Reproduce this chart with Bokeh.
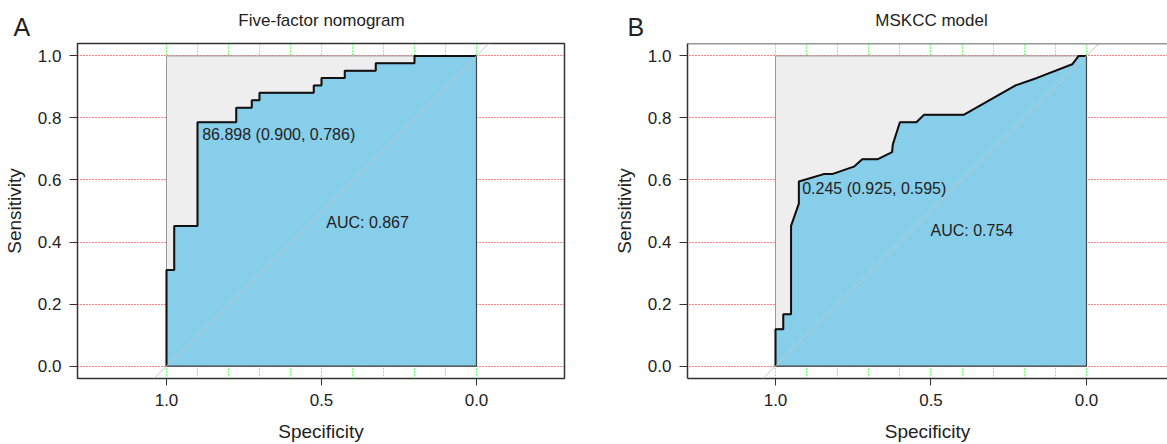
from bokeh.plotting import figure
from bokeh.layouts import row, column
from bokeh.models import FixedTicker, Label, Slope, Span, PrintfTickFormatter, Range1d
from bokeh.core.properties import value
from bokeh.embed import file_html
from bokeh.resources import INLINE

# ---- data ----
spec_a = [1.000, 1.000, 0.975, 0.975, 0.900, 0.900, 0.775, 0.775, 0.725, 0.725, 0.700, 0.700,
          0.525, 0.525, 0.500, 0.500, 0.425, 0.425, 0.325, 0.325, 0.200, 0.200, 0.000]
sens_a = [0.000, 0.310, 0.310, 0.452, 0.452, 0.786, 0.786, 0.833, 0.833, 0.857, 0.857, 0.881,
          0.881, 0.905, 0.905, 0.929, 0.929, 0.952, 0.952, 0.976, 0.976, 1.000, 1.000]

spec_b = [1.000, 1.000, 0.975, 0.975, 0.950, 0.950, 0.925, 0.925, 0.845, 0.818, 0.748, 0.721,
          0.671, 0.625, 0.623, 0.600, 0.547, 0.523, 0.395, 0.228, 0.159, 0.046, 0.025, 0.000]
sens_b = [0.000, 0.119, 0.119, 0.167, 0.167, 0.452, 0.524, 0.595, 0.619, 0.619, 0.643, 0.667,
          0.667, 0.690, 0.714, 0.786, 0.786, 0.810, 0.810, 0.905, 0.929, 0.973, 1.000, 1.000]

titles = ["Five-factor nomogram", "MSKCC model"]
letters = ["A", "B"]
auc_texts = ["AUC: 0.867", "AUC: 0.754"]
thr_texts = ["86.898 (0.900, 0.786)", "0.245 (0.925, 0.595)"]
y_ticks = [0.0, 0.2, 0.4, 0.6, 0.8, 1.0]
x_ticks = [1.0, 0.5, 0.0]
grid_x = [0.0, 0.1, 0.2, 0.3, 0.4, 0.5, 0.6, 0.7, 0.8, 0.9, 1.0]
grid_y = [0.0, 0.2, 0.4, 0.6, 0.8, 1.0]

FONT = "Liberation Sans"
TXT = "#222222"
HEAD_H = 42
TOTAL_H = 444
WA, WB = 610, 557


def make_header(width):
    h = figure(width=width, height=HEAD_H, x_range=Range1d(0, width),
               y_range=Range1d(HEAD_H, 0), output_backend="svg",
               toolbar_location=None, x_axis_type=None, y_axis_type=None,
               min_border=0, min_border_left=0, min_border_right=0,
               min_border_top=0, min_border_bottom=0)
    h.outline_line_color = None
    h.grid.visible = False
    # panel titles (centred over specificity 0.5 of each panel)
    h.text(x=[321, WA + 321], y=[19.5, 19.5], text=titles, text_font=value(FONT),
           text_font_size="17px", text_color=TXT, text_align="center",
           text_baseline="middle")
    # panel letters
    h.text(x=[13, WA + 17], y=[26, 26], text=letters, text_font=value(FONT),
           text_font_size="25px", text_color=TXT, text_align="left",
           text_baseline="middle")
    return h


def make_panel(spec, sens, auc_txt, auc_xy, thr_txt, thr_xy,
               width, xr, border_right, outline):
    p = figure(width=width, height=TOTAL_H - HEAD_H,
               x_range=Range1d(xr[0], xr[1]), y_range=Range1d(-0.04, 1.04),
               output_backend="svg", toolbar_location=None,
               min_border_left=77, min_border_right=border_right,
               min_border_top=1, min_border_bottom=66)
    p.background_fill_color = "white"
    p.border_fill_color = "white"

    # grids
    p.xgrid.ticker = FixedTicker(ticks=grid_x)
    p.xgrid.grid_line_color = "#00ff00"
    p.xgrid.grid_line_dash = "1 2"
    p.xgrid.grid_line_width = 1
    p.ygrid.ticker = FixedTicker(ticks=grid_y)
    p.ygrid.grid_line_color = "#ff0000"
    p.ygrid.grid_line_dash = "1 2"
    p.ygrid.grid_line_width = 1

    # max-AUC square (grey)
    x0, x1 = min(spec), max(spec)
    y0, y1 = min(sens), max(sens)
    p.patch([x1, x1, x0, x0], [y0, y1, y1, y0], fill_color="#EEEEEE",
            line_color="#999999", line_width=1)
    # AUC polygon (blue)
    p.patch(spec + [x0], sens + [y0], fill_color="#87CEEB",
            line_color="#444444", line_width=1.2)
    # diagonal
    p.add_layout(Slope(gradient=-1, y_intercept=1, line_color="#C4C4C4", line_width=1))
    # ROC curve
    p.line(spec, sens, line_color="#111111", line_width=2)

    # axes
    for ax in (p.xaxis, p.yaxis):
        ax.major_label_text_font = FONT
        ax.major_label_text_font_size = "17px"
        ax.major_label_text_color = TXT
        ax.axis_label_text_font = FONT
        ax.axis_label_text_font_size = "19px"
        ax.axis_label_text_font_style = "normal"
        ax.axis_label_text_color = TXT
        ax.major_tick_in = 0
        ax.major_tick_line_color = "#333333"
        ax.minor_tick_line_color = None
        ax.formatter = PrintfTickFormatter(format="%.1f")
    p.xaxis.ticker = FixedTicker(ticks=x_ticks)
    p.yaxis.ticker = FixedTicker(ticks=y_ticks)
    p.xaxis.major_tick_out = 7
    p.yaxis.major_tick_out = 8
    p.xaxis.major_label_standoff = 8
    p.yaxis.major_label_standoff = 8
    p.xaxis.axis_label_standoff = 12
    p.yaxis.axis_label_standoff = 10
    p.xaxis.axis_label = "Specificity"
    p.yaxis.axis_label = "Sensitivity"

    if outline:
        p.outline_line_color = "#333333"
        p.outline_line_width = 1.5
        p.xaxis.axis_line_color = None
        p.yaxis.axis_line_color = None
    else:
        p.outline_line_color = None
        p.xaxis.axis_line_color = "#333333"
        p.xaxis.axis_line_width = 1.5
        p.yaxis.axis_line_color = "#333333"
        p.yaxis.axis_line_width = 1.5
        p.add_layout(Span(location=1.04, dimension="width", line_color="#333333", line_width=1.5))

    # in-plot texts
    p.add_layout(Label(x=auc_xy[0], y=auc_xy[1], text=auc_txt, text_align="left",
                       text_baseline="middle", text_font=FONT,
                       text_font_size="16px", text_color=TXT))
    p.add_layout(Label(x=thr_xy[0], y=thr_xy[1], text=thr_txt, text_align="left",
                       text_baseline="middle", text_font=FONT,
                       text_font_size="16px", text_color=TXT))
    return p


pa = make_panel(spec_a, sens_a, auc_texts[0], (0.4848, 0.4624),
                thr_texts[0], (0.8848, 0.746), WA, (1.2871, -0.2839), 46, True)
pb = make_panel(spec_b, sens_b, auc_texts[1], (0.5016, 0.4383),
                thr_texts[1], (0.9142, 0.5714), WB, (1.283, -0.2605), 0, False)
header = make_header(WA + WB)

layout = column(header, row(pa, pb, spacing=0), spacing=0)
open("out.html", "w").write(file_html(layout, INLINE))
